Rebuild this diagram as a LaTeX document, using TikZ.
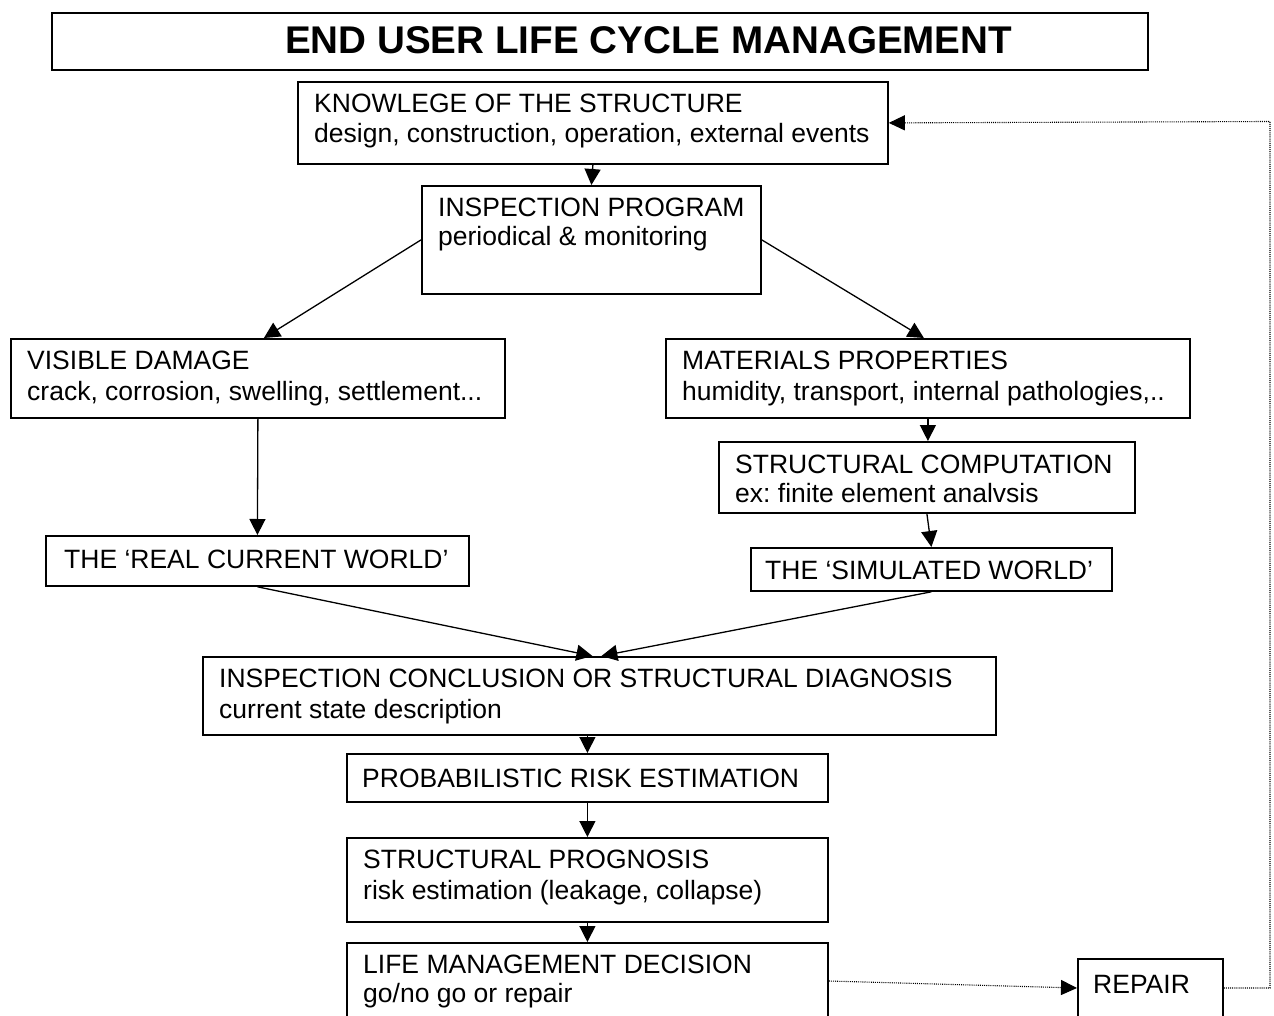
\documentclass[tikz,border=0pt]{standalone}
\usepackage{fontspec}
\setmainfont{Liberation Sans}
\usetikzlibrary{arrows.meta,calc}

\newcommand\dgbody{\fontsize{26.5}{30}\selectfont\frenchspacing}
\newcommand\dghead{\fontsize{38.6}{44}\selectfont\bfseries}

\begin{document}
\begin{tikzpicture}[x=1pt,y=-1pt,
  box/.style={draw, line width=1.8pt, rectangle, inner sep=0pt, anchor=north west},
  txt/.style={inner sep=0pt, anchor=base west, font=\dgbody},
  flow/.style={line width=1.3pt, -{Triangle[length=16pt,width=16pt]}},
  loopback/.style={line width=1.1pt, dash pattern=on 1pt off 1.1pt, -{Triangle[length=16pt,width=15pt]}}]

\useasboundingbox (0,0) rectangle (1274,1016);
\clip (0,0) rectangle (1274,1016);
\fill[white] (0,0) rectangle (1274,1016);

% title bar
\node[box, minimum width=1096pt, minimum height=57pt] (title) at (51,12) {};
\node[inner sep=0pt, anchor=base west, font=\dghead] (title-t) at (285,54) {END USER LIFE CYCLE MANAGEMENT};

% boxes
\node[box, minimum width=590pt, minimum height=82pt]  (kn) at (297,81)  {};
\node[box, minimum width=339pt, minimum height=108pt] (ip) at (421,185) {};
\node[box, minimum width=494pt, minimum height=79pt]  (vd) at (10,338)  {};
\node[box, minimum width=524pt, minimum height=79pt]  (mp) at (665,338) {};
\node[box, minimum width=416pt, minimum height=71pt]  (sc) at (718,441) {};
\node[box, minimum width=361pt, minimum height=43pt]  (sw) at (750,547) {};
\node[box, minimum width=423pt, minimum height=50pt]  (rw) at (45,535)  {};
\node[box, minimum width=793pt, minimum height=78pt]  (cc) at (202,656) {};
\node[box, minimum width=481pt, minimum height=48pt]  (pr) at (346,753) {};
\node[box, minimum width=481pt, minimum height=84pt]  (pg) at (346,837) {};
\node[box, minimum width=481pt, minimum height=90pt]  (lm) at (346,942) {};
\node[box, minimum width=145pt, minimum height=80pt]  (rp) at (1077,958) {};

% box texts
\node[txt] (kn-1) at ($(kn.north west)+(17,31.5)$) {KNOWLEGE OF THE STRUCTURE};
\node[txt] (kn-2) at ($(kn.north west)+(17,61.5)$) {design, construction, operation, external events};
\node[txt] (ip-1) at ($(ip.north west)+(17,31.5)$) {INSPECTION PROGRAM};
\node[txt] (ip-2) at ($(ip.north west)+(17,60.5)$) {periodical \& monitoring};
\node[txt] (vd-1) at ($(vd.north west)+(17,31.5)$) {VISIBLE DAMAGE};
\node[txt] (vd-2) at ($(vd.north west)+(17,62)$) {crack, corrosion, swelling, settlement...};
\node[txt] (mp-1) at ($(mp.north west)+(17,31.5)$) {MATERIALS PROPERTIES};
\node[txt] (mp-2) at ($(mp.north west)+(17,62)$) {humidity, transport, internal pathologies,..};
\node[txt] (sc-1) at ($(sc.north west)+(17,32.5)$) {STRUCTURAL COMPUTATION};
\node[txt] (sc-2) at ($(sc.north west)+(17,61)$) {ex: finite element analvsis};
\node[txt] (sw-1) at ($(sw.north west)+(15,32)$) {THE ‘SIMULATED WORLD’};
\node[txt] (rw-1) at ($(rw.north west)+(19,33)$) {THE ‘REAL CURRENT WORLD’};
\node[txt] (cc-1) at ($(cc.north west)+(17,31.5)$) {INSPECTION CONCLUSION OR STRUCTURAL DIAGNOSIS};
\node[txt] (cc-2) at ($(cc.north west)+(17,62)$) {current state description};
\node[txt] (pr-1) at ($(pr.north west)+(16,34)$) {PROBABILISTIC RISK ESTIMATION};
\node[txt] (pg-1) at ($(pg.north west)+(17,31.5)$) {STRUCTURAL PROGNOSIS};
\node[txt] (pg-2) at ($(pg.north west)+(17,62)$) {risk estimation (leakage, collapse)};
\node[txt] (lm-1) at ($(lm.north west)+(17,31.5)$) {LIFE MANAGEMENT DECISION};
\node[txt] (lm-2) at ($(lm.north west)+(17,60.5)$) {go/no go or repair};
\node[txt] (rp-1) at ($(rp.north west)+(16,35)$) {REPAIR};

% main flow
\draw[flow] (kn.south) -- (ip.north);
\draw[flow] (ip.west) -- ($(vd.north)+(6,0)$);
\draw[flow] (ip.east) -- ($(mp.north)+(-4,0)$);
\draw[flow] (vd.south) -- (rw.north);
\draw[flow] (mp.south) -- (mp.south |- sc.north);
\draw[flow] (sc.south) -- (sw.north);
\draw[flow] (rw.south) -- ($(cc.north)+(-7,0)$);
\draw[flow] (sw.south) -- ($(cc.north)+(2,0)$);
\draw[flow] (pr.north |- cc.south) -- (pr.north);
\draw[flow] (pr.south) -- (pg.north);
\draw[flow] (pg.south) -- (lm.north);

% repair loop
\coordinate (loop) at (1270,121.5);
\draw[loopback] ($(lm.north east)+(0,39)$) -- ($(rp.north west)+(0,30)$);
\draw[loopback] ($(rp.north east)+(0,30)$) -| (loop) -- (kn.east);
\end{tikzpicture}
\end{document}
